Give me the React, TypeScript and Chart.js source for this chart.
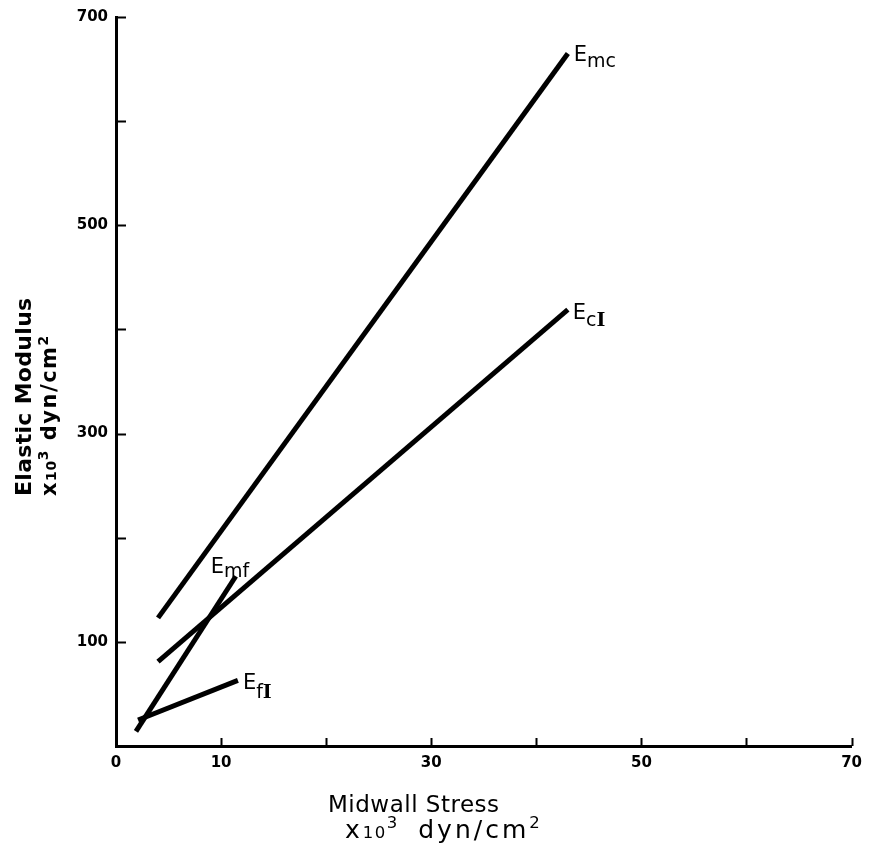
import React, { useEffect, useRef } from "react";
import { Chart, registerables } from "chart.js";

Chart.register(...registerables);

// ---- data ----
const xTickValues = [0, 10, 20, 30, 40, 50, 60, 70];
const xTickLabels = [0, 10, 30, 50, 70];
const yTickValues = [100, 200, 300, 400, 500, 600, 700];
const yTickLabels = [100, 300, 500, 700];

const emcX = [4.0, 43.0];
const emcY = [123, 665];
const ecIX = [4.0, 43.0];
const ecIY = [81, 419];
const emfX = [1.9, 11.4];
const emfY = [14, 163];
const efIX = [2.1, 11.6];
const efIY = [25, 63];

// subscript of each series label: [lowercase part, roman numeral part]
const seriesSubs = [["mc", ""], ["c", "I"], ["mf", ""], ["f", "I"]];
const xTitle = "Midwall Stress";
const yTitle = "Elastic Modulus";
const unitParts = ["x", "10", "3", " dyn/cm", "2"];

const FONT = "'DejaVu Sans', sans-serif";
const SERIF = "'DejaVu Serif', 'Liberation Serif', serif";

function pts(xs: number[], ys: number[]) {
  return xs.map((x, i) => ({ x, y: ys[i] }));
}

type Seg = { text: string; size: number; weight: string; dy: number; family?: string; ls?: number; gap?: number };

function drawSegs(ctx: CanvasRenderingContext2D, x: number, y: number, segs: Seg[]) {
  let cx = x;
  for (const s of segs) {
    cx += s.gap || 0;
    ctx.font = `${s.weight} ${s.size}px ${s.family || FONT}`;
    (ctx as any).letterSpacing = `${s.ls || 0}px`;
    ctx.fillText(s.text, cx, y + s.dy);
    cx += ctx.measureText(s.text).width;
  }
  (ctx as any).letterSpacing = "0px";
}

function unitSegs(size: number, weight: string, ls: number, gap: number): Seg[] {
  return [
    { text: unitParts[0], size, weight, dy: 0, ls },
    { text: unitParts[1], size: size * 0.66, weight, dy: 0, ls: ls * 0.5 },
    { text: unitParts[2], size: size * 0.66, weight, dy: -size * 0.4, ls },
    { text: unitParts[3], size, weight, dy: 0, ls, gap },
    { text: unitParts[4], size: size * 0.66, weight, dy: -size * 0.4, ls },
  ];
}

// label offsets relative to each line's end point (pixels)
const labelOffsets = [
  { dx: 6, dy: 8, sub: 6 },
  { dx: 5, dy: 9, sub: 7 },
  { dx: -25, dy: -3, sub: 4 },
  { dx: 5, dy: 9, sub: 9 },
];

const annotate = {
  id: "annotate",
  afterDraw(chart: any) {
    const { ctx, chartArea } = chart;
    const x = chart.scales.x;
    const y = chart.scales.y;
    ctx.save();
    ctx.strokeStyle = "#000";
    ctx.fillStyle = "#000";
    ctx.lineWidth = 2;
    ctx.beginPath();
    for (const v of yTickValues) {
      const py = Math.round(y.getPixelForValue(v)) + 0.5;
      ctx.moveTo(chartArea.left, py);
      ctx.lineTo(chartArea.left + 10, py);
    }
    for (const v of xTickValues) {
      if (v === 0) continue;
      const px = Math.round(x.getPixelForValue(v)) + 0.5;
      ctx.moveTo(px, chartArea.bottom);
      ctx.lineTo(px, chartArea.bottom - 8);
    }
    ctx.stroke();

    // series labels
    ctx.textBaseline = "alphabetic";
    ctx.textAlign = "left";
    chart.data.datasets.forEach((ds: any, i: number) => {
      const last = ds.data[ds.data.length - 1];
      const o = labelOffsets[i];
      const px = x.getPixelForValue(last.x) + o.dx;
      const py = y.getPixelForValue(last.y) + o.dy;
      const segs: Seg[] = [
        { text: "E", size: 21, weight: "500", dy: 0 },
        { text: seriesSubs[i][0], size: 19, weight: "500", dy: o.sub },
      ];
      if (seriesSubs[i][1]) {
        segs.push({ text: seriesSubs[i][1], size: 19, weight: "bold", dy: o.sub, family: SERIF });
      }
      drawSegs(ctx, px, py, segs);
    });

    // x title
    drawSegs(ctx, 328, 812, [{ text: xTitle, size: 23, weight: "normal", dy: 0, ls: 0.5 }]);
    drawSegs(ctx, 345, 838, unitSegs(25, "normal", 3, 7));

    // y title
    ctx.save();
    ctx.translate(31, 496);
    ctx.rotate(-Math.PI / 2);
    drawSegs(ctx, 0, 0, [{ text: yTitle, size: 22, weight: "bold", dy: 0, ls: 0.3 }]);
    ctx.restore();
    ctx.save();
    ctx.translate(56, 496);
    ctx.rotate(-Math.PI / 2);
    drawSegs(ctx, 0, 0, unitSegs(21, "bold", 1.5, 0));
    ctx.restore();

    ctx.restore();
  },
};

export default function App() {
  const ref = useRef<HTMLCanvasElement | null>(null);
  useEffect(() => {
    document.body.style.margin = "0";
    if (!ref.current) return;
    const lineDs = (xs: number[], ys: number[]) => ({
      data: pts(xs, ys),
      showLine: true,
      borderColor: "#000",
      backgroundColor: "#000",
      borderWidth: 5,
      pointRadius: 0,
      borderCapStyle: "butt" as const,
    });
    const chart = new Chart(ref.current, {
      type: "scatter",
      data: {
        datasets: [
          lineDs(emcX, emcY),
          lineDs(ecIX, ecIY),
          lineDs(emfX, emfY),
          lineDs(efIX, efIY),
        ],
      },
      options: {
        animation: false,
        responsive: true,
        maintainAspectRatio: false,
        layout: { padding: { top: 14, right: 17, left: 0, bottom: 0 } },
        plugins: {
          legend: { display: false },
          tooltip: { enabled: false },
        },
        scales: {
          x: {
            type: "linear",
            min: 0,
            max: 70,
            afterFit: (s: any) => {
              s.height = 103;
            },
            afterBuildTicks: (s: any) => {
              s.ticks = xTickValues.map((v) => ({ value: v }));
            },
            ticks: {
              padding: 8,
              color: "#000",
              font: { family: FONT, size: 15, weight: "bold" },
              maxRotation: 0,
              autoSkip: false,
              callback: (v: any) => (xTickLabels.includes(Number(v)) ? String(v) : ""),
            },
            grid: { display: false, drawTicks: false },
            border: { display: true, color: "#000", width: 3 },
          },
          y: {
            type: "linear",
            min: 0,
            max: 700,
            afterFit: (s: any) => {
              s.width = 116;
            },
            afterBuildTicks: (s: any) => {
              s.ticks = yTickValues.map((v) => ({ value: v }));
            },
            ticks: {
              padding: 8,
              color: "#000",
              font: { family: FONT, size: 15, weight: "bold" },
              autoSkip: false,
              callback: (v: any) => (yTickLabels.includes(Number(v)) ? String(v) : ""),
            },
            grid: { display: false, drawTicks: false },
            border: { display: true, color: "#000", width: 3 },
          },
        },
      },
      plugins: [annotate],
    });
    return () => chart.destroy();
  }, []);
  return (
    <div style={{ width: 870, height: 849, position: "relative" }}>
      <canvas ref={ref} />
    </div>
  );
}
